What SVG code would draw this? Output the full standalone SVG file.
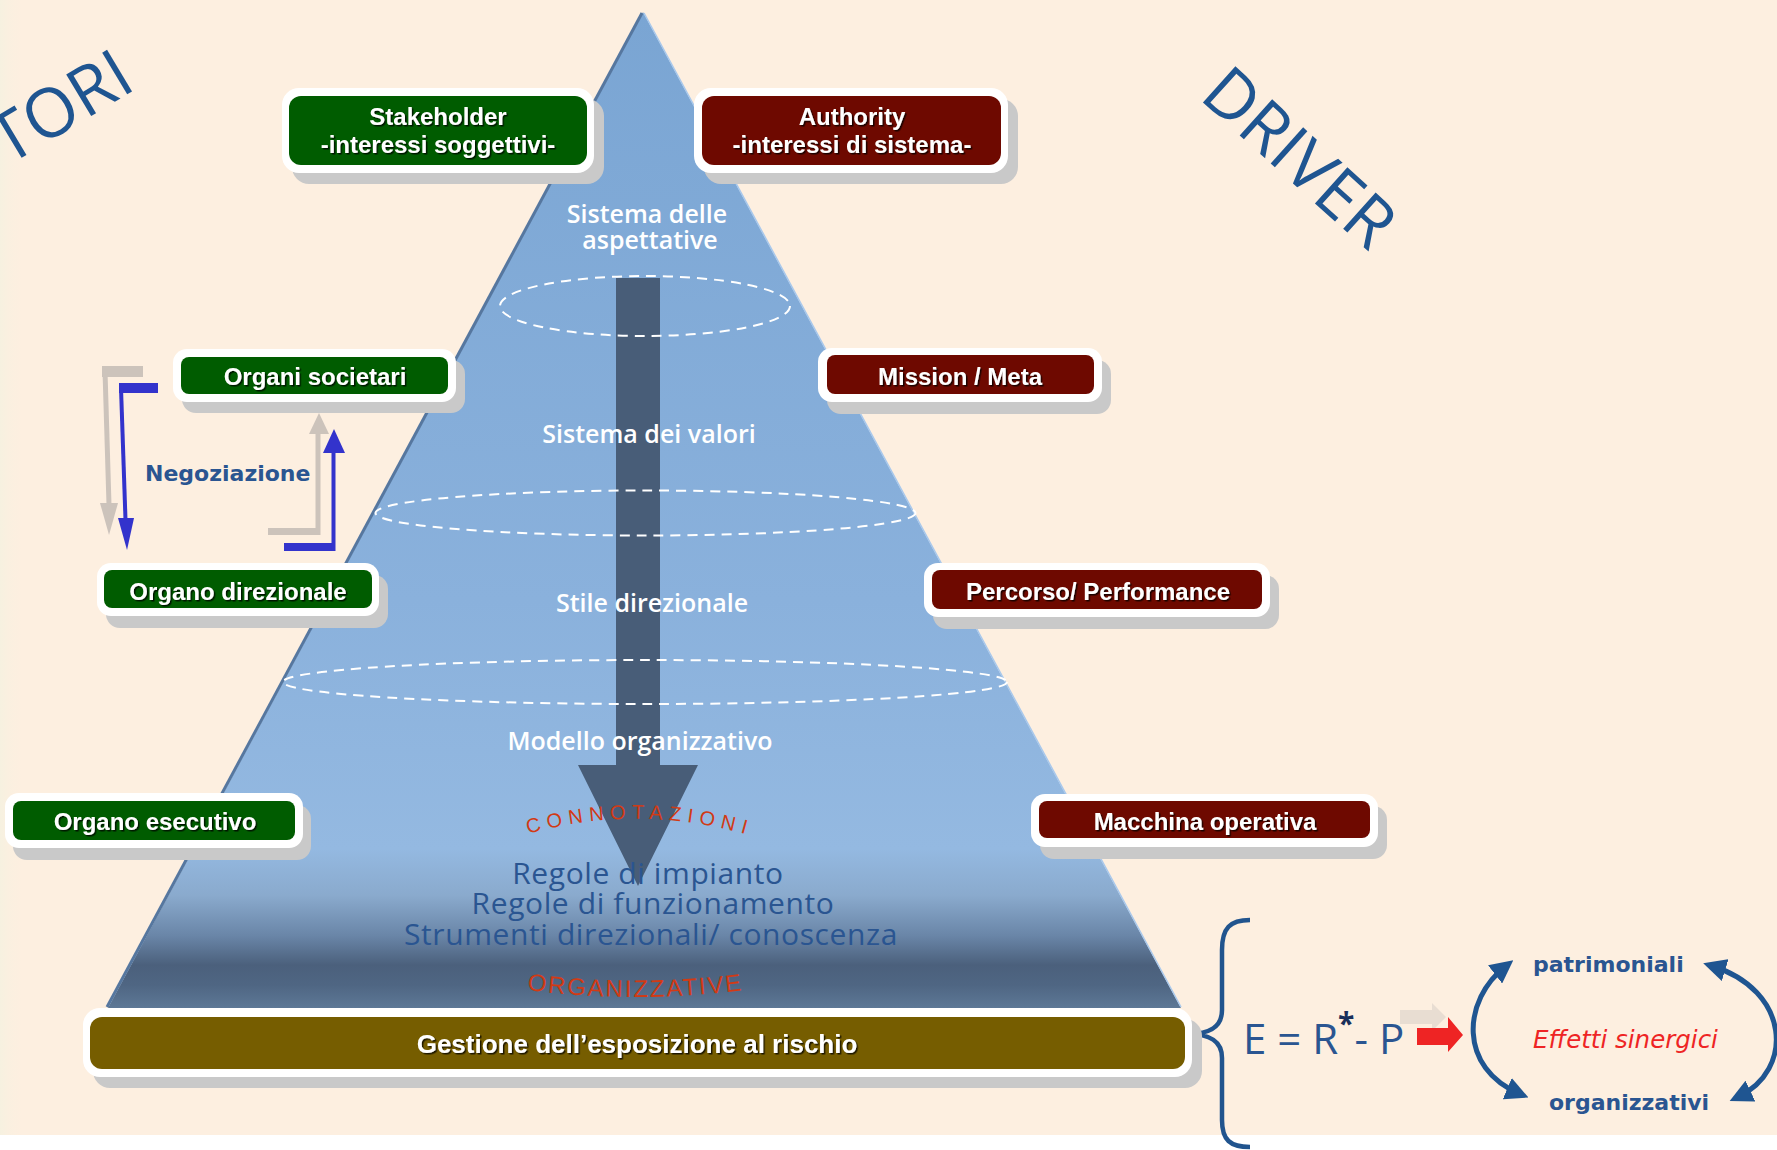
<svg xmlns="http://www.w3.org/2000/svg" width="1777" height="1150" viewBox="0 0 1777 1150">
<defs>
  <linearGradient id="pyr" gradientUnits="userSpaceOnUse" x1="0" y1="12" x2="0" y2="1008">
    <stop offset="0" stop-color="#7aa5d3"/>
    <stop offset="0.59" stop-color="#8ab1dc"/>
    <stop offset="0.84" stop-color="#94b9e1"/>
    <stop offset="0.887" stop-color="#8aaacd"/>
    <stop offset="0.927" stop-color="#6a86a8"/>
    <stop offset="0.957" stop-color="#4b607c"/>
    <stop offset="0.977" stop-color="#4f6683"/>
    <stop offset="1" stop-color="#5d7896"/>
  </linearGradient>
  <linearGradient id="edge" x1="0" y1="0" x2="1" y2="0">
    <stop offset="0" stop-color="#f6f1e0"/>
    <stop offset="1" stop-color="#fdefe0" stop-opacity="0"/>
  </linearGradient>
  <filter id="ts" x="-10%" y="-30%" width="120%" height="160%">
    <feDropShadow dx="1.5" dy="1.5" stdDeviation="0.7" flood-color="#000" flood-opacity="0.75"/>
  </filter>
  <marker id="ah" viewBox="0 0 10 10" refX="6" refY="5" markerWidth="4.6" markerHeight="4.6" orient="auto-start-reverse" markerUnits="strokeWidth">
    <path d="M0,0 L10,5 L0,10 z" fill="#1f5591"/>
  </marker>
  <path id="arcTop" d="M528,834 Q646,800 772,842"/>
  <path id="arcBot" d="M527,990 Q640,1005 760,988"/>
</defs>
<style>
  .shadow{fill:#c9c9c9}
  .outer{fill:#ffffff}
  .green{fill:#005c00}
  .dred{fill:#6e0900}
  .olive{fill:#765d00}
  .lbl{font-family:"Liberation Sans",Arial,sans-serif;font-weight:bold;font-size:24px;fill:#ffffff;text-anchor:middle;filter:url(#ts)}
  .pw{font-family:"Open Sans",sans-serif;font-weight:600;font-size:25px;fill:#ffffff;text-anchor:middle}
  .pb{font-family:"Open Sans",sans-serif;font-size:30px;letter-spacing:0.6px;fill:#2a5591;text-anchor:middle}
  .dash{fill:none;stroke:#ffffff;stroke-width:2;stroke-dasharray:10 7}
  .big{font-family:"Open Sans",sans-serif;font-size:68px;fill:#1f5591}
  .side{font-family:"DejaVu Sans",Verdana,sans-serif;font-weight:bold;font-size:22px;fill:#2a5591}
  .rd{font-family:"Liberation Sans",Arial,sans-serif;fill:#d23a14}
  .blue{fill:#3333cc}
  .bluel{stroke:#3333cc;stroke-width:4;fill:none}
  .gray{fill:#ccc3bb}
  .grayl{stroke:#ccc3bb;stroke-width:5;fill:none}
</style>

<!-- background -->
<rect width="1777" height="1150" fill="#ffffff"/>
<rect width="1777" height="1135" fill="#fdefe0"/>
<rect width="24" height="1135" fill="url(#edge)"/>

<!-- side titles -->
<text class="big" transform="translate(8,166) rotate(-31)">TORI</text>
<text class="big" transform="translate(1198,98) rotate(42)">DRIVER</text>

<!-- pyramid -->
<g id="pyramid">
  <polygon points="643,12 108,1008 1181,1008" fill="url(#pyr)"/>
  <line x1="642" y1="13" x2="107" y2="1007" stroke="#56779f" stroke-width="3"/>
  <line x1="644" y1="13" x2="1181" y2="1007" stroke="#a8c8ec" stroke-width="1.5"/>
  <polygon points="616,278 660,278 660,765 698,765 638,886 578,765 616,765" fill="#485d78"/>
  <ellipse class="dash" cx="645" cy="306" rx="145" ry="30"/>
  <ellipse class="dash" cx="645.5" cy="513" rx="270" ry="22.5"/>
  <ellipse class="dash" cx="645" cy="682" rx="362" ry="22"/>
  <text class="pw" x="647" y="223">Sistema delle</text>
  <text class="pw" x="650" y="249">aspettative</text>
  <text class="pw" x="649" y="443">Sistema dei valori</text>
  <text class="pw" x="652" y="612">Stile direzionale</text>
  <text class="pw" x="640" y="750">Modello organizzativo</text>
  <text class="rd" font-size="20" letter-spacing="6.2"><textPath href="#arcTop">CONNOTAZIONI</textPath></text>
  <text class="pb" x="648" y="884">Regole di impianto</text>
  <text class="pb" x="653" y="914">Regole di funzionamento</text>
  <text class="pb" x="651" y="945">Strumenti direzionali/ conoscenza</text>
  <text class="rd" font-size="24" letter-spacing="2"><textPath href="#arcBot">ORGANIZZATIVE</textPath></text>
</g>

<!-- connectors -->
<g id="connectors">
  <g id="neg-shadow">
    <rect class="gray" x="102" y="366" width="41" height="11"/>
    <path class="grayl" d="M105,371 L109,505"/>
    <polygon class="gray" points="100,503 118,503 109,535"/>
    <rect class="gray" x="268" y="528" width="52" height="7"/>
    <path class="grayl" d="M318,535 V432"/>
    <polygon class="gray" points="309,434 329,434 319,413"/>
  </g>
  <g id="neg-down">
    <rect class="blue" x="119" y="383" width="39" height="10"/>
    <path class="bluel" d="M121,388 L125.5,520"/>
    <polygon class="blue" points="118,518 134,518 127,550"/>
  </g>
  <g id="neg-up">
    <rect class="blue" x="284" y="543" width="51" height="8"/>
    <path class="bluel" d="M333.5,551 V450"/>
    <polygon class="blue" points="323,453 345,453 334,429"/>
  </g>
  <g id="brace">
    <path d="M1250,920 C1230,920 1222,928 1222,950 L1222,1010 C1222,1027 1210,1034 1188,1034 C1210,1034 1222,1041 1222,1058 L1222,1120 C1222,1140 1230,1147 1250,1147" fill="none" stroke="#21548e" stroke-width="4.5"/>
  </g>
  <polygon points="1400,1010 1432,1010 1432,1003 1446,1017 1432,1031 1432,1024 1400,1024" fill="#e8ddd2"/>
  <polygon id="red-arrow" points="1417,1028 1448,1028 1448,1017 1463,1035 1448,1052 1448,1045 1417,1045" fill="#ee2424"/>
  <path id="arc-left" d="M1506,966 C1462,1000 1458,1068 1520,1094" fill="none" stroke="#1f5591" stroke-width="5" marker-start="url(#ah)" marker-end="url(#ah)"/>
  <path id="arc-right" d="M1712,966 C1790,990 1795,1070 1738,1097" fill="none" stroke="#1f5591" stroke-width="5" marker-start="url(#ah)" marker-end="url(#ah)"/>
</g>

<text class="side" x="145" y="481">Negoziazione</text>

<!-- nodes -->
<g id="stakeholder">
  <rect class="shadow" x="292" y="99" width="312" height="85" rx="17"/>
  <rect class="outer" x="282" y="88" width="312" height="85" rx="17"/>
  <rect class="green" x="289" y="96" width="298" height="69" rx="12"/>
  <text class="lbl" x="438" y="125">Stakeholder</text>
  <text class="lbl" x="438" y="153">-interessi soggettivi-</text>
</g>
<g id="authority">
  <rect class="shadow" x="704" y="99" width="314" height="85" rx="17"/>
  <rect class="outer" x="694" y="88" width="314" height="85" rx="17"/>
  <rect class="dred" x="702" y="96" width="299" height="69" rx="12"/>
  <text class="lbl" x="852" y="125">Authority</text>
  <text class="lbl" x="852" y="153">-interessi di sistema-</text>
</g>
<g id="organi-societari">
  <rect class="shadow" x="182" y="360" width="283" height="53" rx="14"/>
  <rect class="outer" x="173" y="349" width="283" height="53" rx="14"/>
  <rect class="green" x="181" y="357" width="267" height="37" rx="8"/>
  <text class="lbl" x="315" y="385">Organi societari</text>
</g>
<g id="organo-direzionale">
  <rect class="shadow" x="106" y="575" width="282" height="53" rx="14"/>
  <rect class="outer" x="97" y="563" width="282" height="53" rx="14"/>
  <rect class="green" x="104" y="570" width="268" height="38" rx="8"/>
  <text class="lbl" x="238" y="600">Organo direzionale</text>
</g>
<g id="organo-esecutivo">
  <rect class="shadow" x="13" y="805" width="298" height="55" rx="14"/>
  <rect class="outer" x="5" y="793" width="298" height="55" rx="14"/>
  <rect class="green" x="13" y="801" width="282" height="39" rx="8"/>
  <text class="lbl" x="155" y="830">Organo esecutivo</text>
</g>
<g id="mission">
  <rect class="shadow" x="827" y="360" width="284" height="54" rx="14"/>
  <rect class="outer" x="818" y="348" width="284" height="54" rx="14"/>
  <rect class="dred" x="827" y="355" width="267" height="39" rx="8"/>
  <text class="lbl" x="960" y="385">Mission / Meta</text>
</g>
<g id="percorso">
  <rect class="shadow" x="933" y="575" width="346" height="54" rx="14"/>
  <rect class="outer" x="924" y="563" width="346" height="54" rx="14"/>
  <rect class="dred" x="932" y="570" width="330" height="39" rx="8"/>
  <text class="lbl" x="1098" y="600">Percorso/ Performance</text>
</g>
<g id="macchina">
  <rect class="shadow" x="1040" y="806" width="347" height="53" rx="14"/>
  <rect class="outer" x="1031" y="794" width="347" height="53" rx="14"/>
  <rect class="dred" x="1039" y="801" width="331" height="37" rx="8"/>
  <text class="lbl" x="1205" y="830">Macchina operativa</text>
</g>
<g id="gestione">
  <rect class="shadow" x="93" y="1019" width="1109" height="69" rx="17"/>
  <rect class="outer" x="83" y="1008" width="1109" height="69" rx="17"/>
  <rect class="olive" x="90" y="1017" width="1095" height="52" rx="12"/>
  <text class="lbl" x="637" y="1053" style="font-size:26px">Gestione dell’esposizione al rischio</text>
</g>

<!-- formula -->
<g id="formula">
  <text x="1243" y="1054" font-family="Open Sans, sans-serif" font-size="42" fill="#2a5591">E = R<tspan dy="-20" font-size="30" font-weight="bold" fill="#1a2f5a">*</tspan><tspan dy="20">- P</tspan></text>
</g>
<g id="effetti">
  <text class="side" x="1533" y="972">patrimoniali</text>
  <text x="1533" y="1048" font-family="DejaVu Sans, Verdana, sans-serif" font-style="italic" font-size="24.5" fill="#ee2424">Effetti sinergici</text>
  <text class="side" x="1549" y="1110">organizzativi</text>
</g>
</svg>
